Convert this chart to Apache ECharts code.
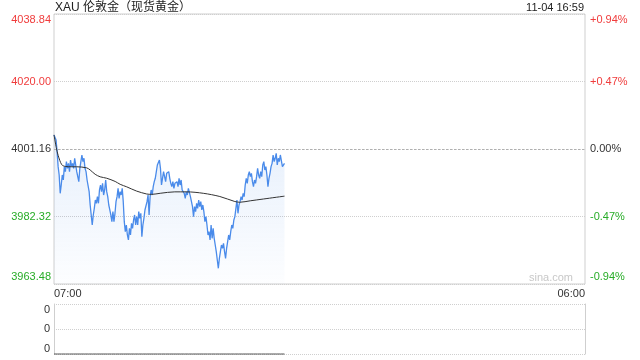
<!DOCTYPE html>
<html><head><meta charset="utf-8">
<script src="https://cdn.jsdelivr.net/npm/echarts@6/dist/echarts.min.js"></script>
<style>html,body{margin:0;padding:0;background:#fff}#c{width:640px;height:360px}</style>
</head><body><div id="c"></div>
<script>
const titleText = 'XAU 伦敦金（现货黄金）';
const stampText = '11-04 16:59';
const watermark = 'sina.com';
const preClose = 4001.16;
const priceTicks = [3963.48, 3982.32, 4001.16, 4020.00, 4038.84];
const sessionStartHour = 7;      // 07:00
const sessionMinutes = 1380;     // 07:00 -> 06:00 next day
const lastMinute = 599;          // 16:59

// intraday price samples from 07:00 to 16:59 (evenly spaced)
const price = [
4005.07,4005.26,4003.67,4000.42,3996.23,3993.91,3988.79,3991.11,3993.91,3992.51,
3996.23,3994.84,3997.63,3995.77,3997.16,3994.84,3998.09,3996.23,3997.16,3995.77,
3998.56,3996.70,3994.84,3993.44,3992.05,3995.77,3997.63,3999.49,3997.63,3998.56,
3995.77,3994.84,3992.51,3992.05,3989.25,3985.53,3982.74,3979.95,3982.74,3984.60,
3986.93,3986.00,3987.86,3986.00,3989.72,3991.11,3989.25,3991.58,3988.32,3989.72,
3992.51,3989.25,3987.86,3985.53,3984.14,3982.74,3980.88,
3983.67,3980.88,3983.21,3986.46,3987.86,3990.18,3987.39,3989.25,3988.32,3990.18,
3986.46,3980.88,3978.09,3979.95,3977.16,3975.77,3979.02,3977.16,3980.42,3979.02,
3981.35,3982.74,3979.95,3982.28,3979.95,3983.67,3981.81,3983.21,3976.70,3979.95,
3981.81,3984.14,3983.67,3986.46,3988.32,3982.74,3987.86,3989.72,3988.32,3990.65,
3992.05,3992.98,3994.84,3996.70,3996.23,3998.09,3995.77,3991.11,3992.98,3994.84,
3993.44,3992.05,3994.37,3993.91,3994.84,
3992.98,3991.58,3990.65,3992.05,3990.18,3991.58,3991.11,3992.05,3990.65,3992.98,
3991.11,3992.51,3989.72,3990.18,3988.79,3987.39,3989.25,3988.32,3990.18,3989.72,
3987.86,3986.46,3985.07,3982.28,3985.07,3983.67,3986.00,3984.60,3986.93,3985.07,
3986.46,3984.14,3985.53,3983.67,3980.88,3982.28,3979.95,3977.16,3978.09,3975.77,
3979.95,3976.23,3979.02,3976.23,3974.37,3972.51,3970.18,3967.86,3970.65,3972.51,
3974.37,3973.44,3974.84,3972.51,3970.65,3973.44,3975.30,3977.16,3975.77,3978.09,
3979.95,3979.02,3981.35,
3982.28,3984.60,3986.93,3983.21,3985.53,3986.46,3987.86,3986.93,3988.79,3987.86,
3991.11,3992.98,3991.58,3993.91,3994.84,3993.44,3994.37,3992.05,3990.65,3992.51,
3991.58,3993.44,3995.77,3993.91,3992.98,3994.84,3993.44,3996.70,3997.63,3995.30,
3996.23,3993.91,3990.65,3992.98,3994.37,3996.23,3997.16,3999.49,3997.63,3998.56,
3999.95,3996.70,3998.56,3997.63,3999.49,3999.02,3996.23,3996.70,3997.16
];

// average price line (minutes after 07:00, value)
const maMinutes = [0,6,11,20,29,45,59,85,94,107,120,137,159,172,189,215,241,254,276,314,345,388,431,470,483,510,544,599];
const maValues  = [4005.1,4001.5,3999.3,3996.8,3996.3,3996.2,3996.2,3995.9,3995.3,3994.1,3993.4,3993.0,3992.1,3991.3,3990.6,3989.4,3988.6,3988.5,3988.8,3989.2,3989.2,3988.8,3987.9,3986.5,3986.3,3986.7,3987.2,3988.0];

// volume (all zero), one per 10 minutes
const volume = [0,0,0,0,0,0,0,0,0,0,0,0,0,0,0,0,0,0,0,0,0,0,0,0,0,0,0,0,0,0,
0,0,0,0,0,0,0,0,0,0,0,0,0,0,0,0,0,0,0,0,0,0,0,0,0,0,0,0,0,0,0];

const RED = '#f03c3c', GREEN = '#27ac27', DARK = '#333', FONT = "'Liberation Sans', Arial, 'Noto Sans CJK SC', sans-serif";

const priceData = price.map((v, i) => [i * lastMinute / (price.length - 1), v]);
const maData = maValues.map((v, i) => [maMinutes[i], v]);
const volData = volume.map((v, i) => [i * lastMinute / (volume.length - 1), v]);
const maxVol = Math.max(...volume);

const yMin = priceTicks[0], yMax = priceTicks[priceTicks.length - 1], yStep = priceTicks[1] - priceTicks[0];
const pct = v => Math.round((v - preClose) / preClose * 10000) / 100;
const pMin = pct(yMin), pMax = pct(yMax), pStep = pct(priceTicks[1]) - pMin;

function richSet(fs) {
  const r = {};
  const cols = {u: RED, d: GREEN, n: DARK};
  const pads = {T: [12,0,0,0], B: [0,0,14,0], M: [0,0,0,0]};
  for (const k in cols) for (const p in pads) r[k + p] = {color: cols[k], padding: pads[p], fontSize: fs, fontFamily: FONT};
  return r;
}
function posKey(v, lo, hi) { return Math.abs(v - hi) < 1e-6 ? 'T' : Math.abs(v - lo) < 1e-6 ? 'B' : 'M'; }
function dirKey(v, mid) { return v > mid + 1e-6 ? 'u' : v < mid - 1e-6 ? 'd' : 'n'; }
function hhmm(m) { const t = (sessionStartHour * 60 + m) % 1440; const h = Math.floor(t / 60), mm = t % 60; return String(h).padStart(2,'0') + ':' + String(mm).padStart(2,'0'); }

const chart = echarts.init(document.getElementById('c'), null, {renderer: 'canvas'});
chart.setOption({
  animation: false,
  textStyle: {fontFamily: FONT},
  grid: [
    {left: 54, right: 55, top: 14, height: 270, show: true, borderColor: '#cfcfcf', borderWidth: 1},
    {left: 54, right: 55, top: 304, height: 50}
  ],
  xAxis: [
    {type: 'value', gridIndex: 0, min: 0, max: sessionMinutes, interval: sessionMinutes,
     axisLine: {show: false}, axisTick: {show: false}, splitLine: {show: false},
     axisLabel: {show: true, margin: 4, fontSize: 11, color: DARK, formatter: v => hhmm(v),
       alignMinLabel: 'left', alignMaxLabel: 'right', showMinLabel: true, showMaxLabel: true}},
    {type: 'value', gridIndex: 1, min: 0, max: sessionMinutes, show: false, splitLine: {show: false}}
  ],
  yAxis: [
    {type: 'value', gridIndex: 0, position: 'left', min: yMin, max: yMax, interval: yStep,
     axisLine: {show: false}, axisTick: {show: false},
     splitLine: {show: true, lineStyle: {color: '#cfcfcf', type: [1, 1], width: 1}},
     axisLabel: {margin: 3, fontSize: 11,
       formatter: v => '{' + dirKey(v, preClose) + posKey(v, yMin, yMax) + '|' + v.toFixed(2) + '}',
       rich: richSet(11)}},
    {type: 'value', gridIndex: 0, position: 'right', min: pMin, max: pMax, interval: pStep,
     axisLine: {show: false}, axisTick: {show: false}, splitLine: {show: false},
     axisLabel: {margin: 5, fontSize: 11,
       formatter: v => { const s = (Math.abs(v) < 1e-6 ? '0.00' : (v > 0 ? '+' : '') + v.toFixed(2)) + '%';
         return '{' + dirKey(v, 0) + posKey(v, pMin, pMax) + '|' + s + '}'; },
       rich: richSet(11)}},
    {type: 'value', gridIndex: 1, position: 'left', min: 0, max: 1, interval: 0.5,
     axisLine: {show: true, lineStyle: {color: '#cfcfcf'}}, axisTick: {show: false},
     splitLine: {show: true, lineStyle: {color: '#cfcfcf', type: [1, 1]}},
     axisLabel: {margin: 4, fontSize: 11,
       formatter: v => '{n' + posKey(v, 0, 1) + '|' + (v * maxVol).toFixed(0) + '}',
       rich: (() => { const r = richSet(11); r.nT.padding = [12,0,0,0]; r.nB.padding = [0,0,10,0]; return r; })()}},
    {type: 'value', gridIndex: 1, position: 'right', min: 0, max: 1,
     axisLine: {show: true, lineStyle: {color: '#cfcfcf'}}, axisTick: {show: false},
     axisLabel: {show: false}, splitLine: {show: false}}
  ],
  series: [
    {type: 'line', xAxisIndex: 0, yAxisIndex: 0, data: priceData, showSymbol: false, symbol: 'none',
     lineStyle: {color: '#4a8bea', width: 1.3}, itemStyle: {color: '#4a8bea'},
     areaStyle: {origin: 'start', color: new echarts.graphic.LinearGradient(0, 0, 0, 1, [
       {offset: 0, color: 'rgba(80,144,232,0.2)'}, {offset: 1, color: 'rgba(80,144,232,0.02)'}])},
     markLine: {silent: true, symbol: 'none', label: {show: false},
       lineStyle: {color: '#b0b0b0', type: [2, 2], width: 1}, data: [{yAxis: preClose}]}},
    {type: 'line', xAxisIndex: 0, yAxisIndex: 0, data: maData, showSymbol: false, symbol: 'none', smooth: 0.3,
     lineStyle: {color: '#333', width: 1}},
    {type: 'line', xAxisIndex: 1, yAxisIndex: 2, data: volData, showSymbol: false, symbol: 'none', clip: false,
     lineStyle: {color: '#555', width: 1}}
  ],
  graphic: [
    {type: 'text', left: 55, top: 2, style: {text: titleText, fontSize: 12, fill: '#222', fontFamily: FONT}},
    {type: 'text', right: 56, top: 2, style: {text: stampText, fontSize: 11, fill: '#222', fontFamily: FONT}},
    {type: 'text', right: 67, top: 272, style: {text: watermark, fontSize: 11, fill: '#c8c8c8', fontFamily: FONT}}
  ]
});
</script></body></html>
